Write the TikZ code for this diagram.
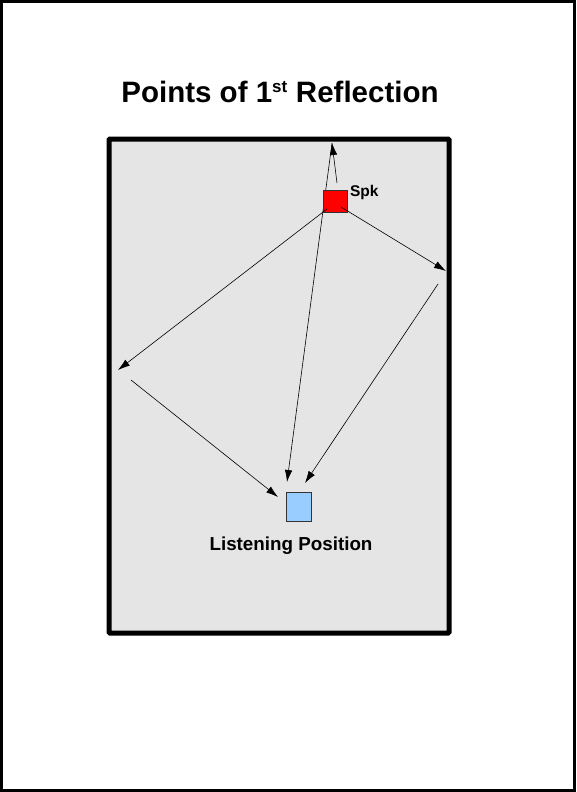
\documentclass[tikz,border=0pt]{standalone}
\usepackage{fontspec}
\setmainfont{Liberation Sans}
\usetikzlibrary{arrows.meta, positioning}

\begin{document}
\begin{tikzpicture}[x=1pt, y=-1pt, >={Latex[length=12pt,width=7.5pt]},
    ray/.style={->, line width=0.6pt, black},
    box/.style={draw=black!80, line width=0.6pt, inner sep=0pt, minimum width=#1}]

        \useasboundingbox (0,0) rectangle (576,792);
        \draw[line width=3pt] (1.5,1.5) rectangle (574.5,790.5);

        % room
        \draw[line width=5pt, fill=black!10, rounded corners=1pt] (109,139) rectangle (449,633);
        \node[anchor=base, font=\bfseries\fontsize{29.5}{34}\selectfont] (TITLE) at (280,102)
            {Points of 1\textsuperscript{\fontsize{17}{20}\selectfont st} Reflection};

        % reflection points on the walls
        \coordinate (TOPWALL) at (332,143);
        \coordinate (LEFTIN) at (118,370);
        \coordinate (LEFTOUT) at (131,380);
        \coordinate (RIGHTIN) at (446,271);
        \coordinate (RIGHTOUT) at (438,284);

        \path[ray]
            (TOPWALL) edge (287,482);

        \node[box=24pt, minimum height=22pt, fill=red] (SPK) at (335,201) {};
        \node[anchor=base west, font=\bfseries\fontsize{15.5}{18}\selectfont] at (346.5,196.5) {Spk};

        \node[box=25pt, minimum height=29pt, fill={rgb,255:red,153;green,204;blue,255}] (LP) at (298.5,506.5) {};
        \node[anchor=base, font=\bfseries\fontsize{18.8}{22}\selectfont] (LPTEXT) at (291,550) {Listening Position};

        \path[ray]
            (337,183) edge (TOPWALL)
            (327,209) edge (LEFTIN)
            (341,207) edge (RIGHTIN)
            (LEFTOUT) edge (278,497)
            (RIGHTOUT) edge (305,483);
\end{tikzpicture}
\end{document}
